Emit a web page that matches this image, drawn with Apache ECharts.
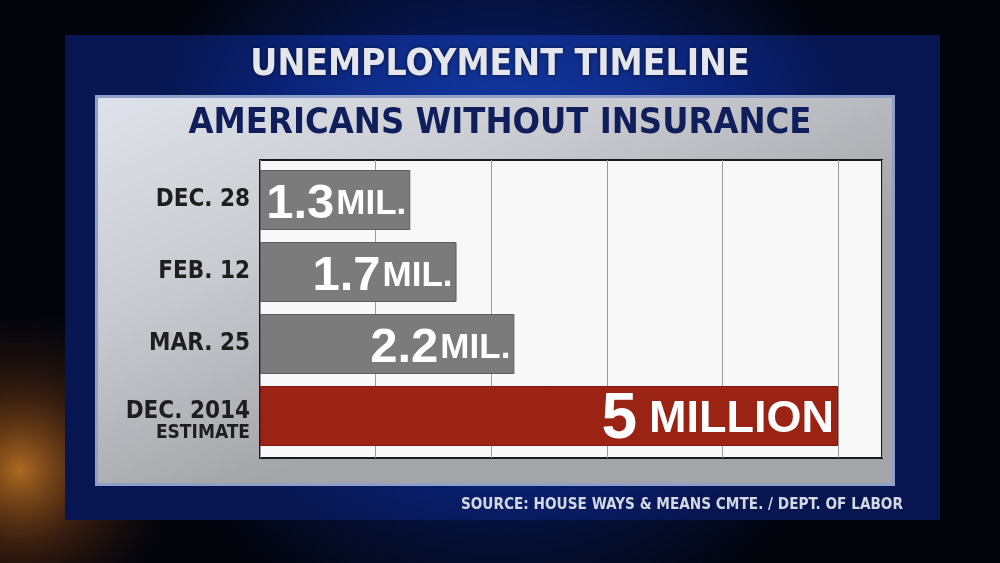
<!DOCTYPE html>
<html>
<head>
<meta charset="utf-8">
<script src="https://cdn.jsdelivr.net/npm/echarts@6/dist/echarts.min.js"></script>
<style>
html,body{margin:0;padding:0;background:#03060f;}
#c{width:1000px;height:563px;}
</style>
</head>
<body>
<div id="c"></div>
<script>
const categories = ['DEC. 28', 'FEB. 12', 'MAR. 25', 'DEC. 2014'];
const categoryNotes = ['', '', '', 'ESTIMATE'];
const values = [1.3, 1.7, 2.2, 5];
const valueLabels = ['1.3', '1.7', '2.2', '5'];
const unitLabels = ['MIL.', 'MIL.', 'MIL.', 'MILLION'];
const highlight = [false, false, false, true];

const condensed = "'DejaVu Sans Condensed', 'DejaVu Sans', sans-serif";
const arial = "'Liberation Sans', Arial, sans-serif";

const chart = echarts.init(document.getElementById('c'));

const xScale = { type: 'value', min: 0, max: 5.38, interval: 1 };

const option = {
  backgroundColor: '#03060f',
  graphic: [
    { type: 'rect', z: -20, shape: { x: 0, y: 0, width: 1000, height: 563 },
      style: { fill: { type: 'radial', x: 0.5, y: 0.45, r: 0.7,
        colorStops: [{ offset: 0, color: '#0c2a8a' }, { offset: 0.6, color: '#061447' }, { offset: 1, color: '#02040c' }] } } },
    { type: 'circle', z: -19, shape: { cx: 20, cy: 470, r: 160 },
      style: { fill: { type: 'radial', x: 0.5, y: 0.5, r: 0.5,
        colorStops: [{ offset: 0, color: 'rgba(230,140,40,0.75)' }, { offset: 0.5, color: 'rgba(140,70,20,0.35)' }, { offset: 1, color: 'rgba(60,30,10,0)' }] } } },
    { type: 'rect', z: -18, shape: { x: 65, y: 35, width: 875, height: 485 },
      style: { fill: { type: 'radial', x: 0.5, y: 0.35, r: 0.75,
        colorStops: [{ offset: 0, color: '#1744b8' }, { offset: 0.7, color: '#0a2276' }, { offset: 1, color: '#071650' }] } } },
    { type: 'rect', z: -17, shape: { x: 95, y: 95, width: 800, height: 391 },
      style: { fill: '#8fa0c8' } },
    { type: 'rect', z: -16, shape: { x: 98, y: 98, width: 794, height: 385 },
      style: { fill: { type: 'linear', x: 0, y: 0, x2: 0.2, y2: 1,
        colorStops: [{ offset: 0, color: '#dfe2ea' }, { offset: 0.5, color: '#c9cacf' }, { offset: 1, color: '#a4a5a9' }] } } }
  ],
  title: [
    { text: 'UNEMPLOYMENT TIMELINE', left: 'center', top: 42,
      textStyle: { color: '#e4e6ec', fontFamily: condensed, fontWeight: 'bold', fontSize: 37,
        textShadowColor: 'rgba(0,0,0,0.6)', textShadowBlur: 4 } },
    { text: 'AMERICANS WITHOUT INSURANCE', left: 'center', top: 101,
      textStyle: { color: '#0f1f5c', fontFamily: condensed, fontWeight: 'bold', fontSize: 36 } },
    { text: 'SOURCE: HOUSE WAYS & MEANS CMTE. / DEPT. OF LABOR', right: 92, top: 493,
      textStyle: { color: '#d4d8e2', fontFamily: condensed, fontWeight: 'bold', fontSize: 15.2 } }
  ],
  grid: [
    { left: 260, right: 118, top: 160, bottom: 105,
      show: true, backgroundColor: '#f8f8f8', borderColor: '#1a1a1a', borderWidth: 2 },
    { left: 260, right: 118, top: 164, bottom: 111 }
  ],
  xAxis: [
    Object.assign({ gridIndex: 0,
      axisLabel: { show: false }, axisTick: { show: false }, axisLine: { show: false },
      splitLine: { show: true, lineStyle: { color: '#9a9a9a', width: 1 } } }, xScale),
    Object.assign({ gridIndex: 1, show: false, splitLine: { show: false } }, xScale)
  ],
  yAxis: [
    { gridIndex: 0, type: 'category', data: categories, inverse: true, show: false },
    {
      gridIndex: 1, type: 'category', data: categories, inverse: true,
      axisLine: { show: false }, axisTick: { show: false }, splitLine: { show: false },
      axisLabel: {
        margin: 10,
        formatter: function (v, i) {
          const note = categoryNotes[i];
          return note ? '{c|' + v + '}\n{b|' + note + '}' : '{a|' + v + '}';
        },
        rich: {
          a: { fontFamily: condensed, fontWeight: 'bold', fontSize: 24, color: '#1e1e1e', align: 'right', lineHeight: 24 },
          c: { fontFamily: condensed, fontWeight: 'bold', fontSize: 24, color: '#1e1e1e', align: 'right', lineHeight: 24, padding: [12, 0, 0, 0] },
          b: { fontFamily: condensed, fontWeight: 'bold', fontSize: 19, color: '#1e1e1e', align: 'right', lineHeight: 20, padding: [10, 0, 0, 0] }
        }
      }
    }
  ],
  series: [{
    type: 'bar',
    xAxisIndex: 1, yAxisIndex: 1,
    barWidth: 60,
    data: values.map(function (v, i) {
      return {
        value: v,
        itemStyle: highlight[i]
          ? { color: '#9a2314', borderColor: '#7a1a0e', borderWidth: 1 }
          : { color: '#7b7b7b', borderColor: '#5e5e5e', borderWidth: 1 }
      };
    }),
    label: {
      show: true, position: 'insideRight', distance: 4, offset: [0, 4],
      formatter: function (p) {
        const i = p.dataIndex;
        return highlight[i]
          ? '{bb|' + valueLabels[i] + '}{bu|' + unitLabels[i] + '}'
          : '{v|' + valueLabels[i] + '}{u|' + unitLabels[i] + '}';
      },
      rich: {
        v: { fontFamily: arial, fontWeight: 'bold', fontSize: 49, color: '#ffffff' },
        u: { fontFamily: arial, fontWeight: 'bold', fontSize: 35, color: '#ffffff', padding: [0, 0, 0, 2] },
        bb: { fontFamily: arial, fontWeight: 'bold', fontSize: 64, color: '#ffffff' },
        bu: { fontFamily: arial, fontWeight: 'bold', fontSize: 45, color: '#ffffff', padding: [0, 0, 0, 12] }
      }
    }
  }]
};
chart.setOption(option);
</script>
</body>
</html>
